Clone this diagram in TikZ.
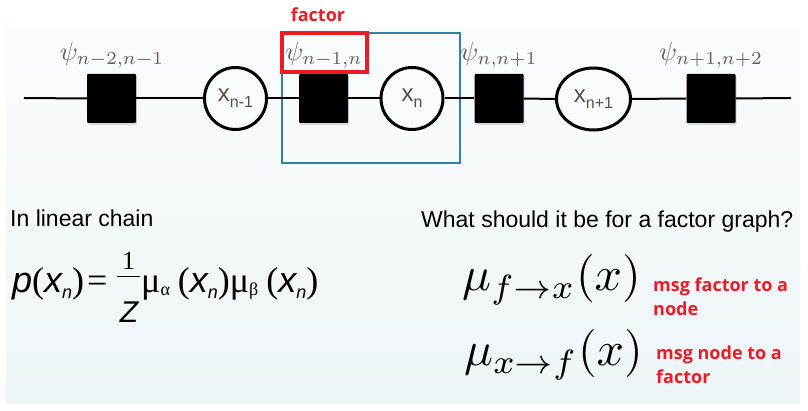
\documentclass[tikz,border=0pt]{standalone}
\usepackage{fontspec}
\setmainfont{Liberation Sans}
\newfontfamily\redfont{Open Sans}
\newfontfamily\serifont{Liberation Serif}
\newfontfamily\sansfont{Liberation Sans}
\usetikzlibrary{shapes.geometric,shadows}
\definecolor{bgtop}{RGB}{249,252,253}
\definecolor{bgbot}{RGB}{238,245,248}
\definecolor{boxblue}{RGB}{52,128,163}
\definecolor{redlab}{RGB}{237,28,36}
\definecolor{psigray}{RGB}{95,95,95}
\definecolor{xgray}{RGB}{88,78,72}
\tikzset{
  fac/.style={draw=none, fill=black, minimum size=49pt, inner sep=0pt, rounded corners=1pt,
    drop shadow={shadow xshift=1pt, shadow yshift=-2pt, opacity=0.25}},
  var/.style={circle, draw=black, line width=3pt, fill=bgtop, minimum size=62pt, inner sep=0pt,
    text=xgray, font=\fontsize{24}{26}\selectfont},
  evar/.style={ellipse, draw=black, line width=3pt, fill=bgtop, minimum width=74pt, minimum height=62pt, inner sep=0pt,
    text=xgray, font=\fontsize{24}{26}\selectfont},
  psilab/.style={anchor=base, inner sep=0pt, text=psigray, font=\fontsize{10}{12}\selectfont},
  redtxt/.style={inner sep=0pt, text=redlab, font=\redfont\bfseries\fontsize{18}{24}\selectfont},
  plain/.style={inner sep=0pt, font=\fontsize{23}{26}\selectfont},
  chain/.style={line width=2pt, black},
}
\newcommand{\xsub}[1]{\lower6pt\hbox{\fontsize{16}{18}\selectfont #1}}
\newcommand{\fsub}[1]{\lower6pt\hbox{\fontsize{18}{20}\selectfont #1}}
\newcommand{\psil}[1]{\scalebox{2.62}{$\psi_{#1}$}}
\newcommand{\bigmath}[1]{\scalebox{4.8}{$#1$}}
\begin{document}
\begin{tikzpicture}[x=1pt,y=-1pt]
\useasboundingbox (0,0) rectangle (808,411);
\fill[white] (0,0) rectangle (808,411);
\shade[top color=bgtop, bottom color=bgbot] (6,28) rectangle (800,403);

% blue box
\draw[boxblue, line width=2pt] (282,33) rectangle (460,163);

% chain
\coordinate (cs) at (24,98);
\coordinate (ce) at (791,98);
\node[fac] (f1) at (111.5,98.5) {};
\node[fac] (f2) at (323.5,98.5) {};
\node[fac] (f3) at (499,98.5) {};
\node[fac] (f4) at (711,98.5) {};
\node[var] (x1) at (235.5,98.5) {x\xsub{n-1}};
\node[var] (x2) at (412,98.5) {x\xsub{n}};
\node[evar] (x3) at (593.5,99) {x\xsub{n+1}};
\begin{scope}[chain]
\draw (cs) -- (f1.west);
\draw (f1.east) -- (x1.west);
\draw (x1.east) -- (f2.west);
\draw (f2.east) -- (x2.west);
\draw (x2.east) -- (f3.west);
\draw (f3.east) -- (x3.west);
\draw (x3.east) -- (f4.west);
\draw (f4.east) -- (ce);
\end{scope}

% psi labels
\node[psilab] (p1) at (112,61) {\psil{n-2,n-1}};
\node[psilab] (p2) at (324,61) {\psil{n-1,n}};
\node[psilab] (p3) at (499,61) {\psil{n,n+1}};
\node[psilab] (p4) at (711,61) {\psil{n+1,n+2}};

% red factor box
\draw[redlab, line width=3.5pt] (282,33) rectangle (367,72);
\node[redtxt, anchor=base] (factor) at (318,22) {factor};

% left text
\node[plain, anchor=base west] (lin) at (10,227) {In linear chain};
\node[inner sep=0pt, anchor=base west, font=\fontsize{36}{40}\selectfont] (pl) at (12,293)
  {\sansfont\itshape p\serifont\upshape(\sansfont\itshape x\fsub{\itshape n}\serifont\upshape)\hspace{3pt}=};
\node[inner sep=0pt, anchor=base, font=\serifont\fontsize{26}{28}\selectfont] (one) at (128.5,270) {1};
\node[inner sep=0pt, anchor=base, font=\sansfont\itshape\fontsize{30}{32}\selectfont] (zz) at (129,323) {Z};
\draw[line width=1pt] (117,277) -- (140,277);
\node[inner sep=0pt, anchor=base west, font=\fontsize{36}{38}\selectfont] (pr) at (141,293)
  {\serifont μ\lower3pt\hbox{\fontsize{18}{18}\selectfont α}\hspace{8pt}(\sansfont\itshape x\fsub{\itshape n}\serifont\upshape)μ\lower3pt\hbox{\fontsize{18}{18}\selectfont β}\hspace{8pt}(\sansfont\itshape x\fsub{\itshape n}\serifont\upshape)};

% right text
\node[plain, anchor=base west] (what) at (421,228) {What should it be for a factor graph?};
\node[inner sep=0pt, anchor=base west, font=\fontsize{10}{12}\selectfont] (m1) at (462,291) {\bigmath{\mu_{f\to x}(x)}};
\node[inner sep=0pt, anchor=base west, font=\fontsize{10}{12}\selectfont] (m2) at (464,366) {\bigmath{\mu_{x\to f}(x)}};
\node[redtxt, anchor=base west, align=left] (l1) at (653,316) {msg factor to a\\node};
\node[redtxt, anchor=base west, align=left] (l2) at (656,383) {msg node to a\\factor};
\end{tikzpicture}
\end{document}
